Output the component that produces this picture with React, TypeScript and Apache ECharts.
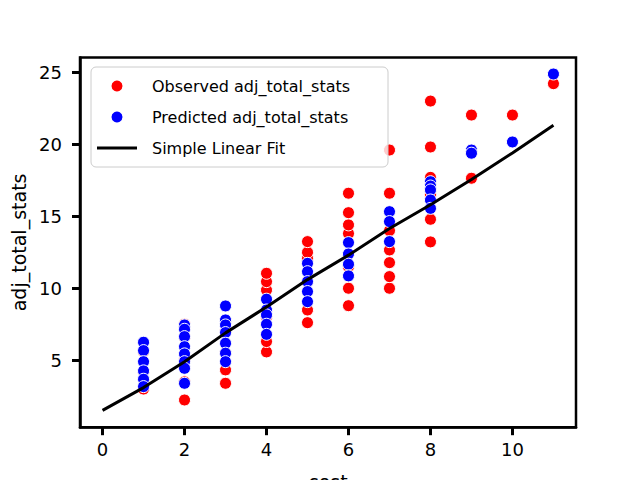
import React, { useEffect, useRef } from "react";
import * as echarts from "echarts";

const costs = [1, 2, 3, 4, 5, 6, 7, 8, 9, 10, 11];

const observed: number[][] = [
  [3.0, 4.2, 5.6],
  [2.24, 3.5, 5.0, 6.6, 7.5],
  [3.4, 4.33, 5.5, 7.0],
  [5.58, 6.3, 8.0, 9.88, 10.46, 11.04],
  [7.61, 8.49, 10.5, 12.08, 12.5, 13.24],
  [8.79, 10.0, 11.5, 13.8, 14.4, 15.25, 16.6],
  [10.0, 10.81, 11.78, 12.66, 14.0, 16.6, 19.6],
  [13.22, 14.79, 16.5, 17.7, 19.81, 23.0],
  [17.64, 22.03],
  [22.03],
  [24.21],
];

const predicted: number[][] = [
  [6.25, 5.67, 4.9, 4.26, 3.68, 3.17],
  [7.45, 7.15, 6.64, 5.94, 5.44, 4.9, 4.44, 3.4],
  [8.77, 7.8, 7.45, 6.92, 6.18, 5.49, 4.9],
  [9.24, 8.49, 8.15, 7.5, 6.8],
  [11.73, 11.15, 10.46, 9.77, 9.07],
  [13.17, 12.38, 11.67, 10.86],
  [15.32, 14.63, 13.24],
  [17.4, 17.1, 16.83, 16.13, 15.55],
  [19.6, 19.38],
  [20.16],
  [24.88],
];

const fitX = [0, 1, 2, 3, 4, 5, 6, 7, 8, 9, 10, 11];
const fitY = [1.52, 3.1, 4.9, 6.9, 8.7, 10.6, 12.3, 14.15, 15.8, 17.55, 19.4, 21.32];

const xTicks = [0, 2, 4, 6, 8, 10];
const yTicks = [5, 10, 15, 20, 25];

const FONT = "DejaVu Sans";

function toPairs(groups: number[][]): number[][] {
  const out: number[][] = [];
  groups.forEach((vals, i) => vals.forEach((v) => out.push([costs[i], v])));
  return out;
}

export default function App() {
  const ref = useRef<HTMLDivElement>(null);
  useEffect(() => {
    if (!ref.current) return;
    const chart = echarts.init(ref.current, undefined, { renderer: "svg" });
    const axisCommon = {
      splitLine: { show: false },
      axisLine: { show: true, onZero: false, lineStyle: { color: "#000", width: 2.5 } },
    };
    chart.setOption({
      animation: false,
      backgroundColor: "#fff",
      grid: {
        left: 80,
        right: 64,
        top: 57.6,
        bottom: 52.8,
        show: true,
        borderColor: "#000",
        borderWidth: 2.5,
        containLabel: false,
        outerBoundsMode: "none",
      },
      xAxis: {
        type: "value",
        min: -0.55,
        max: 11.55,
        name: "cost",
        nameLocation: "middle",
        nameGap: 45,
        nameTextStyle: { fontFamily: FONT, fontSize: 19, color: "#000" },
        ...axisCommon,
        axisTick: { show: true, inside: false, length: 8, lineStyle: { color: "#000", width: 3 }, customValues: xTicks },
        axisLabel: { margin: 13, fontFamily: FONT, fontSize: 18, color: "#000", customValues: xTicks },
      },
      yAxis: {
        type: "value",
        min: 0.35,
        max: 26.02,
        name: "adj_total_stats",
        nameLocation: "middle",
        nameGap: 44,
        nameTextStyle: { fontFamily: FONT, fontSize: 19, color: "#000" },
        ...axisCommon,
        axisTick: { show: true, inside: false, length: 8, lineStyle: { color: "#000", width: 3 }, customValues: yTicks },
        axisLabel: { margin: 18, fontFamily: FONT, fontSize: 18, color: "#000", customValues: yTicks },
      },
      legend: {
        orient: "vertical",
        left: 91,
        top: 67,
        padding: [10, 10, 10, 6],
        itemGap: 13,
        itemWidth: 40,
        itemHeight: 13,
        backgroundColor: "rgba(255,255,255,0.8)",
        borderColor: "#ccc",
        borderWidth: 1,
        borderRadius: 5,
        textStyle: {
          fontFamily: FONT,
          fontSize: 16,
          color: "#000",
          lineHeight: 18,
          width: 226,
          padding: [0, 0, 0, 10],
        },
        data: [
          { name: "Observed adj_total_stats", icon: "circle" },
          { name: "Predicted adj_total_stats", icon: "circle" },
          { name: "Simple Linear Fit", icon: "path://M0,0h40v2.8h-40z" },
        ],
      },
      series: [
        {
          name: "Observed adj_total_stats",
          type: "scatter",
          symbolSize: 12,
          itemStyle: { color: "#ff0000", borderColor: "#fff", borderWidth: 1, opacity: 1 },
          data: toPairs(observed),
          z: 2,
        },
        {
          name: "Predicted adj_total_stats",
          type: "scatter",
          symbolSize: 12,
          itemStyle: { color: "#0000ff", borderColor: "#fff", borderWidth: 1, opacity: 1 },
          data: toPairs(predicted),
          z: 3,
        },
        {
          name: "Simple Linear Fit",
          type: "line",
          showSymbol: false,
          symbol: "none",
          lineStyle: { color: "#000", width: 3 },
          itemStyle: { color: "#000" },
          data: fitX.map((x, i) => [x, fitY[i]]),
          z: 4,
        },
      ],
    });
    return () => chart.dispose();
  }, []);
  return (
    <div
      ref={ref}
      style={{ position: "fixed", left: 0, top: 0, width: 640, height: 480 }}
    />
  );
}
